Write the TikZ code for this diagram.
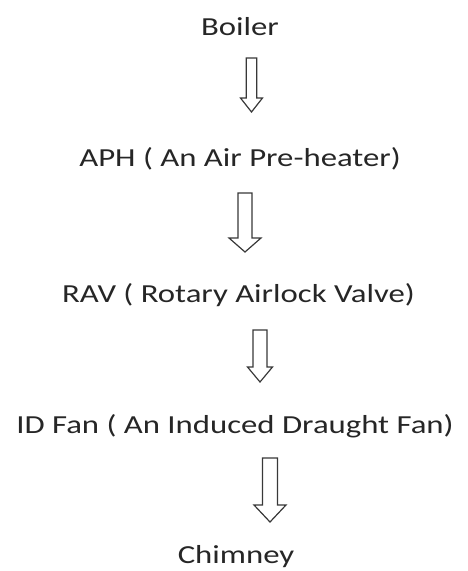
\documentclass[tikz,border=0pt]{standalone}
\usepackage{fontspec}
\setmainfont{Carlito}
\begin{document}
\begin{tikzpicture}[x=1pt,y=-1pt,
  label/.style={anchor=base,inner sep=0pt,text=black!85,font=\fontsize{26}{30}\selectfont},
  blockarrow/.style={draw=black!78,line width=1.2pt,fill=white,line join=miter}]
\useasboundingbox (0,0) rectangle (467,571);
\newcommand{\wide}[1]{\scalebox{1.26}[1]{#1}}
\node[label] (boiler) at (240,35) {\wide{Boiler}};
\node[label] (aph) at (240,166) {\wide{APH ( An Air Pre-heater)}};
\node[label] (rav) at (238.5,302) {\wide{RAV ( Rotary Airlock Valve)}};
\node[label] (idfan) at (235,433) {\wide{ID Fan ( An Induced Draught Fan)}};
\node[label] (chimney) at (236,563) {\wide{Chimney}};
% block arrows: centre x, top, head start, tip, half shaft, half head
\foreach \cx/\top/\hs/\tip/\sw/\hw in {251.5/58/98/112/5.3/11, 245/193/238/252/7/16, 260/330/367/382/7/12.5, 270/458/505/522/7.5/16}{
  \draw[blockarrow] (\cx-\sw,\top) -- (\cx+\sw,\top) -- (\cx+\sw,\hs) -- (\cx+\hw,\hs) -- (\cx,\tip) -- (\cx-\hw,\hs) -- (\cx-\sw,\hs) -- cycle;
}
\end{tikzpicture}
\end{document}
